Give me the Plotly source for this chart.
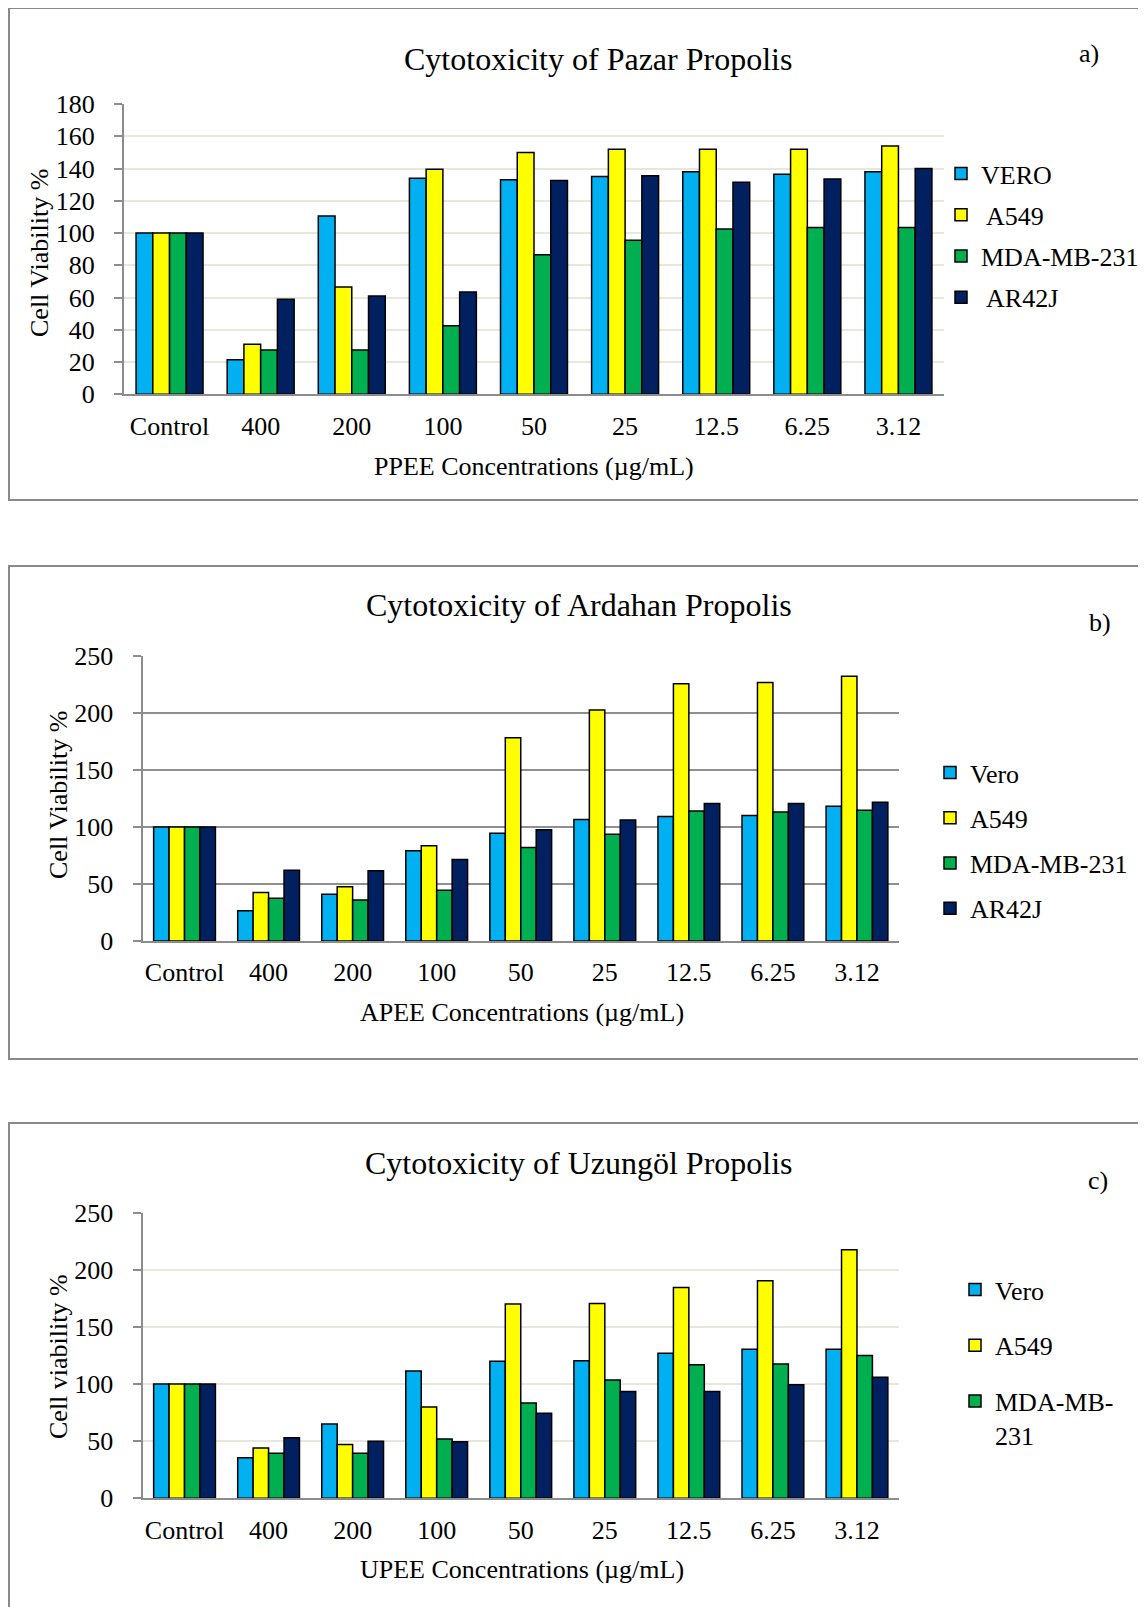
import plotly.graph_objects as go

# ---------------- data ----------------
categories = ["Control", "400", "200", "100", "50", "25", "12.5", "6.25", "3.12"]

# a) Pazar propolis (PPEE)
vero_a = [100, 21.5, 110.5, 134, 133, 135, 138, 136.5, 138]
a549_a = [100, 31, 66.5, 139.5, 150, 152, 152, 152, 154]
mda_a = [100, 27.5, 27.5, 42.5, 86.5, 95.5, 102.5, 103.5, 103.5]
ar42j_a = [100, 59, 61, 63.5, 132.5, 135.5, 131.5, 133.5, 140]

# b) Ardahan propolis (APEE)
vero_b = [100, 26.5, 41, 79, 94.5, 106.5, 109, 110, 118]
a549_b = [100, 42.5, 47.5, 83.5, 178, 202.5, 225.5, 226.5, 232]
mda_b = [100, 37.5, 36, 44.5, 82, 93.5, 114, 113, 114.5]
ar42j_b = [100, 62, 61.5, 71.5, 97.5, 106, 120.5, 120.5, 121.5]

# c) Uzungöl propolis (UPEE)
vero_c = [100, 35.5, 65, 111.5, 120, 120.5, 127, 130.5, 130.5]
a549_c = [100, 44, 47, 80, 170, 170.5, 184.5, 190.5, 217.5]
mda_c = [100, 39.5, 39.5, 52, 83.5, 103.5, 117, 117.5, 125]
ar42j_c = [100, 53, 50, 49.5, 74.5, 93.5, 93.5, 99.5, 106]

names_a = ["VERO", " A549", "MDA-MB-231", " AR42J"]
names_b = ["Vero", "A549", "MDA-MB-231", "AR42J"]
names_c = ["Vero", "A549", "MDA-MB-<br>231", "AR42J"]

colors = ["#00B0F0", "#FFFF00", "#00B050", "#002060"]

# ---------------- layout helpers ----------------
W, H = 1146, 1607
OFF = 8  # page body margin
def px(x):
    return (x - OFF) / W
def py(y):
    return 1 - (y - OFF) / H

FONT = "Liberation Serif, Times New Roman, serif"
GRID_LIGHT = "#E9E6DC"
GRID_DARK = "#8F8F8F"
AXIS_COL = "#8C8C8C"

fig = go.Figure()

panels = [
    dict(series=[vero_a, a549_a, mda_a, ar42j_a], names=names_a, xa="x", ya="y", legend="legend",
         show=[True, True, True, True]),
    dict(series=[vero_b, a549_b, mda_b, ar42j_b], names=names_b, xa="x2", ya="y2", legend="legend2",
         show=[True, True, True, True]),
    dict(series=[vero_c, a549_c, mda_c, ar42j_c], names=names_c, xa="x3", ya="y3", legend="legend3",
         show=[True, True, True, False]),
]

for p in panels:
    for i, (vals, nm) in enumerate(zip(p["series"], p["names"])):
        fig.add_trace(go.Bar(
            x=categories, y=vals, name=nm,
            xaxis=p["xa"], yaxis=p["ya"], legend=p["legend"],
            legendgroup=p["legend"] + str(i),
            showlegend=p["show"][i],
            marker=dict(color=colors[i], line=dict(color="black", width=1.5)),
        ))

def xaxis_cfg(domain, anchor):
    return dict(domain=domain, anchor=anchor, type="category", showline=True, linecolor=AXIS_COL,
                linewidth=2, ticks="", showgrid=False, tickfont=dict(size=26, family=FONT, color="black"),
                ticklabelstandoff=7, automargin=False, fixedrange=True)

def yaxis_cfg(domain, anchor, rng, dtick, gridcolor, gridwidth):
    return dict(domain=domain, anchor=anchor, range=rng, dtick=dtick, showline=True, linecolor=AXIS_COL,
                linewidth=2, ticks="outside", ticklen=8, tickwidth=2, tickcolor=AXIS_COL,
                showgrid=True, gridcolor=gridcolor, gridwidth=gridwidth, zeroline=False,
                tickfont=dict(size=26, family=FONT, color="black"), ticklabelstandoff=14,
                automargin=False, fixedrange=True)

fig.update_layout(
    width=W, height=H,
    margin=dict(l=0, r=0, t=0, b=0, autoexpand=False),
    paper_bgcolor="white", plot_bgcolor="white",
    font=dict(family=FONT, color="black", size=26),
    barmode="group", bargap=0.265, bargroupgap=0,
    xaxis=xaxis_cfg([px(124), px(944)], "y"),
    yaxis=yaxis_cfg([py(394.3), py(104)], "x", [0, 180], 20, GRID_LIGHT, 2),
    xaxis2=xaxis_cfg([px(142.5), px(899)], "y2"),
    yaxis2=yaxis_cfg([py(941), py(655.7)], "x2", [0, 250], 50, GRID_DARK, 2),
    xaxis3=xaxis_cfg([px(142.5), px(899)], "y3"),
    yaxis3=yaxis_cfg([py(1498.3), py(1212.7)], "x3", [0, 250], 50, GRID_LIGHT, 2),
    legend=dict(x=px(941), y=py(150), xanchor="left", yanchor="top", font=dict(size=26, family=FONT),
                tracegroupgap=4.5, bgcolor="rgba(0,0,0,0)", itemclick=False),
    legend2=dict(x=px(930), y=py(749), xanchor="left", yanchor="top", font=dict(size=26, family=FONT),
                 tracegroupgap=8.5, bgcolor="rgba(0,0,0,0)", itemclick=False),
    legend3=dict(x=px(955), y=py(1266), xanchor="left", yanchor="top", font=dict(size=26, family=FONT),
                 tracegroupgap=19, valign="top", bgcolor="rgba(0,0,0,0)", itemclick=False),
    showlegend=True,
)

# panel borders
border = dict(color="#8A8A8A", width=2)
for top, bottom in [(8, 500), (566, 1059), (1123, 1640)]:
    fig.add_shape(type="rect", xref="paper", yref="paper",
                  x0=px(9), x1=px(1180), y0=py(top), y1=py(bottom), line=border, layer="below")

def ann(text, x, y, size, angle=0):
    fig.add_annotation(text=text, x=px(x), y=py(y), xref="paper", yref="paper", showarrow=False,
                       xanchor="center", yanchor="middle", textangle=angle,
                       font=dict(size=size, family=FONT, color="black"))

ann("Cytotoxicity of Pazar Propolis", 598, 59, 32)
ann("a)", 1089, 54, 26)
ann("PPEE Concentrations (µg/mL)", 534, 466, 26)
ann("Cell Viability %", 39, 253, 26, -90)

ann("Cytotoxicity of Ardahan Propolis", 579, 605, 32)
ann("b)", 1100, 622, 26)
ann("APEE Concentrations (µg/mL)", 522, 1012, 26)
ann("Cell Viability %", 58, 795, 26, -90)

ann("Cytotoxicity of Uzungöl Propolis", 579, 1163, 32)
ann("c)", 1098, 1180, 26)
ann("UPEE Concentrations (µg/mL)", 522, 1569, 26)
ann("Cell viability %", 58, 1357, 26, -90)

fig.write_html("out.html")
